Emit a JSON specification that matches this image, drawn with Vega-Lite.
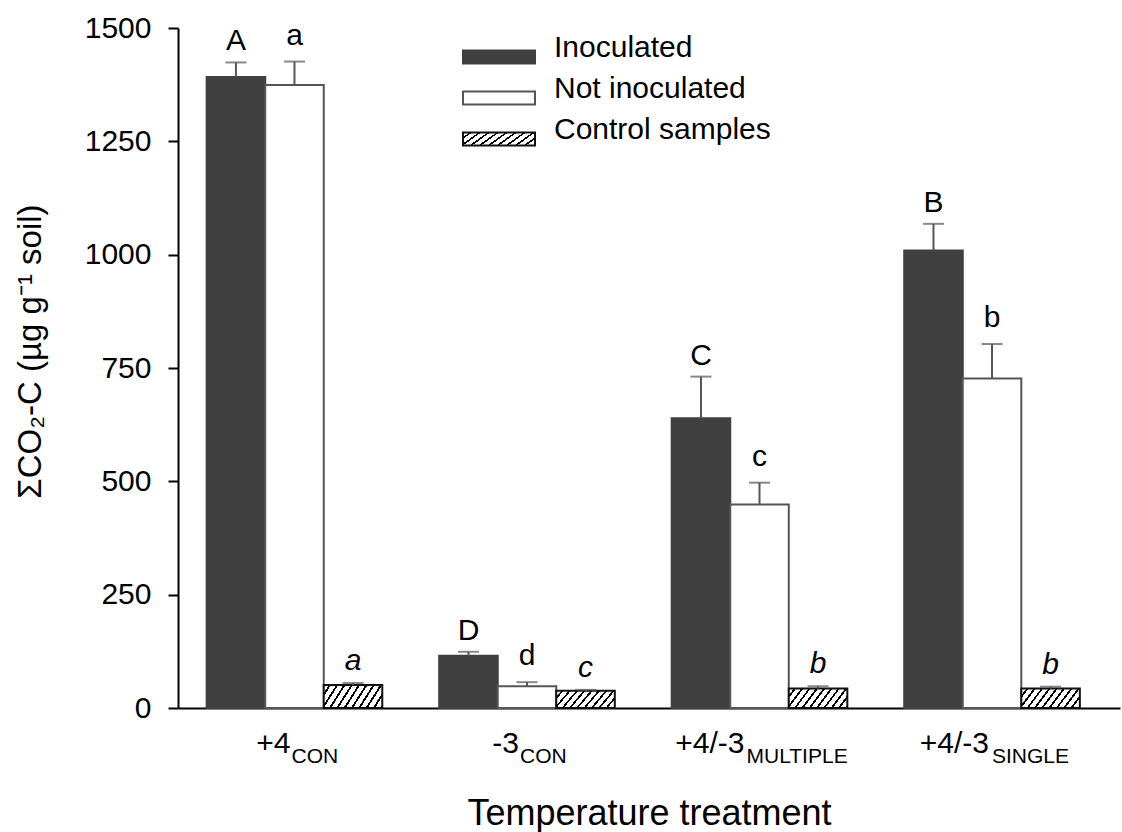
{
  "$schema": "https://vega.github.io/schema/vega-lite/v6.json",
  "width": 942,
  "height": 680,
  "autosize": {"type": "none"},
  "padding": {"left": 178, "top": 28, "right": 2, "bottom": 124},
  "background": "white",
  "config": {"view": {"stroke": null}, "font": "Liberation Sans", "axis": {"grid": false}},
  "data": {
    "values": [
      {"cat": "+4|CON", "group": "Inoculated", "value": 1392, "hi": 1424, "letter": "A"},
      {"cat": "+4|CON", "group": "Not inoculated", "value": 1374, "hi": 1426, "letter": "a"},
      {"cat": "+4|CON", "group": "Control samples", "value": 51, "hi": 55, "letter": "a"},
      {"cat": "-3|CON", "group": "Inoculated", "value": 115, "hi": 124, "letter": "D"},
      {"cat": "-3|CON", "group": "Not inoculated", "value": 48, "hi": 57, "letter": "d"},
      {"cat": "-3|CON", "group": "Control samples", "value": 38, "hi": 40, "letter": "c"},
      {"cat": "+4/-3|MULTIPLE", "group": "Inoculated", "value": 639, "hi": 731, "letter": "C"},
      {"cat": "+4/-3|MULTIPLE", "group": "Not inoculated", "value": 449, "hi": 497, "letter": "c"},
      {"cat": "+4/-3|MULTIPLE", "group": "Control samples", "value": 43, "hi": 48, "letter": "b"},
      {"cat": "+4/-3|SINGLE", "group": "Inoculated", "value": 1009, "hi": 1068, "letter": "B"},
      {"cat": "+4/-3|SINGLE", "group": "Not inoculated", "value": 727, "hi": 803, "letter": "b"},
      {"cat": "+4/-3|SINGLE", "group": "Control samples", "value": 43, "hi": 47, "letter": "b"}
    ]
  },
  "encoding": {
    "x": {"field": "cat", "type": "nominal", "sort": null, "scale": {"paddingInner": 0.2447, "paddingOuter": 0.148, "align": 0.4165}, "axis": null},
    "xOffset": {"field": "group", "type": "nominal", "sort": ["Inoculated", "Not inoculated", "Control samples"], "scale": {"paddingInner": 0, "paddingOuter": 0}},
    "y": {
      "field": "value", "type": "quantitative", "scale": {"domain": [0, 1500], "nice": false},
      "axis": {
        "title": "ΣCO₂-C (µg g⁻¹ soil)",
        "values": [0, 250, 500, 750, 1000, 1250, 1500], "format": "d",
        "labelFontSize": 30, "labelColor": "black", "labelFont": "Liberation Sans", "labelPadding": 17,
        "tickSize": 10, "tickWidth": 2, "tickColor": "black",
        "domainColor": "black", "domainWidth": 2,
        "titleFontSize": 33, "titleFontWeight": "normal", "titleColor": "black", "titleFont": "Liberation Sans",
        "titleX": -138, "titleY": 323, "titleBaseline": "alphabetic", "titleAlign": "center", "titleAngle": 270
      }
    }
  },
  "layer": [
    {
      "mark": {"type": "bar", "strokeWidth": 2},
      "encoding": {
        "x": {
          "field": "cat", "type": "nominal", "sort": null,
          "scale": {"paddingInner": 0.2447, "paddingOuter": 0.148, "align": 0.4165},
          "axis": {
            "orient": "bottom",
            "title": "Temperature treatment",
            "titleFontSize": 36, "titleFont": "Liberation Sans", "titleFontWeight": "normal", "titleColor": "black",
            "titleY": 116, "titleBaseline": "alphabetic",
            "labelExpr": "split(datum.label, '|')[0]",
            "labelAngle": 0, "labelFontSize": 30, "labelColor": "black", "labelFont": "Liberation Sans",
            "labelAlign": "right", "labelBaseline": "alphabetic", "labelPadding": 44,
            "ticks": false, "tickSize": 0, "domainColor": "black", "domainWidth": 2,
            "labelFlush": false, "labelOverlap": false,
            "labelOffset": {"condition": [
              {"test": "datum.value === '+4|CON'", "value": -4},
              {"test": "datum.value === '-3|CON'", "value": -8},
              {"test": "datum.value === '+4/-3|MULTIPLE'", "value": -15}
            ], "value": -3}
          }
        },
        "fill": {
          "field": "group", "type": "nominal",
          "scale": {
            "domain": ["Inoculated", "Not inoculated", "Control samples"],
            "range": ["#404040", "#ffffff", {"expr": "{gradient: 'linear', x1: 0, y1: 0, x2: 1.176, y2: 0.294, stops: [{offset: 0, color: 'white'}, {offset: 0.07, color: 'white'}, {offset: 0.07, color: 'black'}, {offset: 0.1, color: 'black'}, {offset: 0.1, color: 'white'}, {offset: 0.17, color: 'white'}, {offset: 0.17, color: 'black'}, {offset: 0.2, color: 'black'}, {offset: 0.2, color: 'white'}, {offset: 0.27, color: 'white'}, {offset: 0.27, color: 'black'}, {offset: 0.3, color: 'black'}, {offset: 0.3, color: 'white'}, {offset: 0.37, color: 'white'}, {offset: 0.37, color: 'black'}, {offset: 0.4, color: 'black'}, {offset: 0.4, color: 'white'}, {offset: 0.47, color: 'white'}, {offset: 0.47, color: 'black'}, {offset: 0.5, color: 'black'}, {offset: 0.5, color: 'white'}, {offset: 0.57, color: 'white'}, {offset: 0.57, color: 'black'}, {offset: 0.6, color: 'black'}, {offset: 0.6, color: 'white'}, {offset: 0.67, color: 'white'}, {offset: 0.67, color: 'black'}, {offset: 0.7, color: 'black'}, {offset: 0.7, color: 'white'}, {offset: 0.77, color: 'white'}, {offset: 0.77, color: 'black'}, {offset: 0.8, color: 'black'}, {offset: 0.8, color: 'white'}, {offset: 0.87, color: 'white'}, {offset: 0.87, color: 'black'}, {offset: 0.9, color: 'black'}, {offset: 0.9, color: 'white'}, {offset: 0.97, color: 'white'}, {offset: 0.97, color: 'black'}, {offset: 1, color: 'black'}]}"}]
          },
          "legend": {
            "orient": "none", "legendX": 306, "legendY": 14, "title": null, "direction": "vertical",
            "labelFontSize": 30, "labelFont": "Liberation Sans", "labelColor": "black", "labelBaseline": "alphabetic",
            "labelOffset": 40, "labelLimit": 400,
            "symbolType": "M-5.54,-1H5.54V1H-5.54Z", "symbolSize": 169, "symbolStrokeWidth": 2,
            "rowPadding": 6, "padding": 0
          }
        },
        "stroke": {
          "field": "group", "type": "nominal",
          "scale": {"domain": ["Inoculated", "Not inoculated", "Control samples"], "range": ["#404040", "#555555", "#111111"]},
          "legend": {}
        }
      }
    },
    {
      "mark": {"type": "rule", "color": "#555555", "strokeWidth": 2},
      "encoding": {
        "x": {
          "field": "cat", "type": "nominal", "sort": null,
          "scale": {"paddingInner": 0.2447, "paddingOuter": 0.148, "align": 0.4165},
          "axis": {
            "orient": "bottom", "title": null,
            "labelExpr": "split(datum.label, '|')[1]",
            "labelAngle": 0, "labelFontSize": 21, "labelColor": "black", "labelFont": "Liberation Sans",
            "labelAlign": "left", "labelBaseline": "alphabetic", "labelPadding": 54,
            "ticks": false, "tickSize": 0, "domain": false,
            "labelFlush": false, "labelOverlap": false,
            "labelOffset": {"condition": [
              {"test": "datum.value === '+4|CON'", "value": -3},
              {"test": "datum.value === '-3|CON'", "value": -7},
              {"test": "datum.value === '+4/-3|MULTIPLE'", "value": -13}
            ], "value": 0}
          }
        },
        "y2": {"field": "hi"}
      }
    },
    {
      "mark": {"type": "tick", "color": "#555555", "thickness": 2, "size": 21},
      "encoding": {
        "y": {"field": "hi", "type": "quantitative"}
      }
    },
    {
      "transform": [{"filter": "datum.group === 'Inoculated'"}],
      "mark": {"type": "text", "fontSize": 30, "font": "Liberation Sans", "color": "black", "baseline": "alphabetic", "dy": -12},
      "encoding": {
        "y": {"field": "hi", "type": "quantitative"},
        "text": {"field": "letter"}
      }
    },
    {
      "transform": [{"filter": "datum.group === 'Not inoculated'"}],
      "mark": {"type": "text", "fontSize": 30, "font": "Liberation Sans", "color": "black", "baseline": "alphabetic", "dy": -17},
      "encoding": {
        "y": {"field": "hi", "type": "quantitative"},
        "text": {"field": "letter"}
      }
    },
    {
      "transform": [{"filter": "datum.group === 'Control samples'"}],
      "mark": {"type": "text", "fontSize": 30, "font": "Liberation Sans", "fontStyle": "italic", "color": "black", "baseline": "alphabetic", "dy": -13},
      "encoding": {
        "y": {"field": "hi", "type": "quantitative"},
        "text": {"field": "letter"}
      }
    }
  ],
  "resolve": {"axis": {"x": "independent"}}
}
